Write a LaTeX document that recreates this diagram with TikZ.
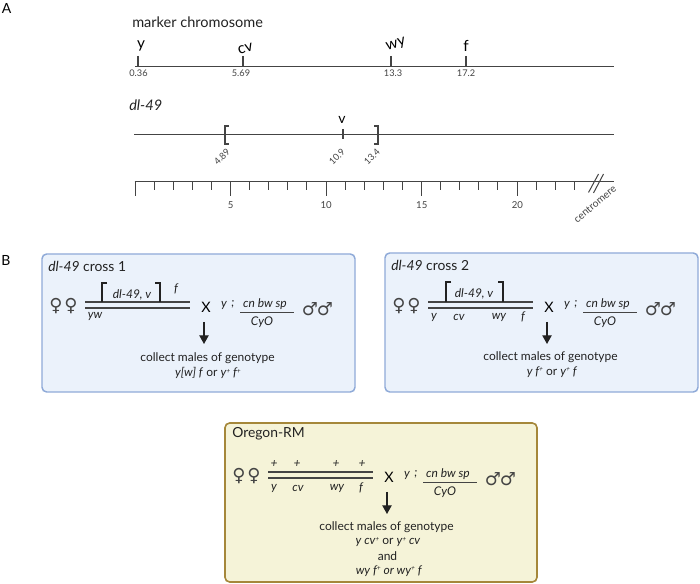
\documentclass[tikz,border=0pt]{standalone}
\usepackage{fontspec}
\setmainfont{Lato}
\newfontfamily\symfont{DejaVu Sans}
\usetikzlibrary{arrows.meta}
\definecolor{inkc}{HTML}{222222}
\definecolor{rulec}{HTML}{444444}
\definecolor{bluefill}{HTML}{EBF2FB}
\definecolor{blueedge}{HTML}{8FAAD8}
\definecolor{yellowfill}{HTML}{F5F3D8}
\definecolor{yellowedge}{HTML}{A5873A}
\newcommand{\fs}[1]{\fontsize{#1}{#1}\selectfont}
\newcommand{\plus}{\raisebox{0.55ex}{\fs{5}+}}
\tikzset{
  lbl/.style={inner sep=0pt,text=inkc,font=\fs{10.9}},
  panel/.style={inner sep=0pt,text=black,font=\fs{10.5}},
  gene/.style={inner sep=0pt,text=black,font=\fs{11.5}},
  num/.style={inner sep=0pt,text=rulec,font=\fs{6.9}},
  geno/.style={inner sep=0pt,text=inkc,font=\fs{9}\itshape},
  body/.style={inner sep=0pt,text=inkc,font=\fs{9}},
  sym/.style={inner sep=0pt,text=rulec,font=\fs{13.5}\symfont},
  axis/.style={draw=rulec,line width=0.85pt},
  thin axis/.style={draw=rulec,line width=0.75pt},
  mark tick/.style={draw=rulec,line width=0.85pt},
  brk/.style={draw=rulec,line width=0.8pt},
  dbl/.style={draw=rulec,line width=1.25pt},
  dbrk/.style={draw=inkc,line width=1.2pt},
  fracline/.style={draw=rulec,line width=0.6pt},
  blue box/.style={draw=blueedge,fill=bluefill,line width=1.1pt,rounded corners=3.5pt},
  yellow box/.style={draw=yellowedge,fill=yellowfill,line width=1.2pt,rounded corners=3.5pt},
  down arrow/.style={draw=inkc,line width=1pt,-{Triangle[width=7pt,length=6.5pt]}},
}
\newcommand{\crosscommon}[2]{%
  \node[sym] (f1) at (56,306) {♀};
  \node[sym] (f2) at (71,306) {♀};
  \coordinate (la) at (85,302); \coordinate (lb) at (190,302);
  \coordinate (lc) at (85,308); \coordinate (ld) at (190,308);
  \draw[dbl] (la) -- (lb);
  \draw[dbl] (lc) -- (ld);
  \node[inner sep=0pt,text=black,font=\fs{10.8}] (cross) at (206,307.5) {X};
  \node[geno] (ymale) at (224,305.5) {y};
  \node[geno] (semi) at (233,304.5) {;};
  \node[geno] (cn) at (265,304) {cn bw sp};
  \coordinate (fa) at (240,312); \coordinate (fb) at (294,312);
  \draw[fracline] (fa) -- (fb);
  \node[geno] (cyo) at (262,322) {CyO};
  \node[sym] (m1) at (310,309) {♂};
  \node[sym] (m2) at (325,309) {♂};
  \coordinate (ar) at (204,322); \coordinate (at) at (204,344);
  \draw[down arrow] (ar) -- (at);
  \node[body] (collect) at (#1,#2) {collect males of genotype};
}
\begin{document}
\begin{tikzpicture}[x=0.75pt,y=-0.75pt]
\useasboundingbox (0,0) rectangle (700,584);
\fill[white] (0,0) rectangle (700,584);
\node[panel] (A) at (6.5,8) {A};
\node[panel] (B) at (6,260) {B};
% marker chromosome
\node[lbl,anchor=west] (mc) at (132,22) {marker chromosome};
\coordinate (m0) at (135,66.5); \coordinate (m1e) at (614,66.5);
\draw[axis] (m0) -- (m1e);
\foreach \xx/\nm/\ang/\lx/\ly/\val/\vx in {138/y/0/141/46/0.36/138.5,243/cv/15/245.5/48.5/5.69/241,391/wy/15/396/45/13.3/393,466/f/0/466/46/17.2/466}{
  \draw[mark tick] (\xx,56) -- (\xx,66.5);
  \node[gene,rotate=\ang] (g\nm) at (\lx,\ly) {\nm};
  \node[num] (v\nm) at (\vx,73.5) {\val};
}
% dl-49
\node[lbl,anchor=west,font=\fs{10.9}\itshape] (dl) at (129,105) {dl-49};
\coordinate (d0) at (134,135); \coordinate (d1) at (614,135);
\draw[thin axis] (d0) -- (d1);
\draw[brk] (229,126) -- (225,126) -- (225,144) -- (229,144);
\draw[brk] (374,126) -- (378,126) -- (378,144) -- (374,144);
\draw[brk] (343,129) -- (343,139.5);
\node[gene,font=\fs{10.5}] (gv) at (342,120) {v};
\node[num,rotate=45] (n1) at (222,157) {4.89};
\node[num,rotate=45] (n2) at (337,157) {10.9};
\node[num,rotate=45] (n3) at (372,157) {13.4};
% scale
\coordinate (s0) at (134.5,181.5); \coordinate (s1) at (614,181.5);
\draw[thin axis] (s0) -- (s1);
\foreach \i in {1,...,23}{
  \pgfmathsetmacro{\xx}{135+19.1*\i}
  \draw[thin axis] (\xx,181.5) -- (\xx,190.5);
}
\foreach \i/\lab in {0/,5/5,10/10,15/15,20/20}{
  \pgfmathsetmacro{\xx}{135+19.12*\i}
  \draw[thin axis] (\xx,181.5) -- (\xx,196.5);
  \ifx\lab\empty\else\node[num,font=\fs{7.2}] (t\i) at (\xx,205.5) {\lab};\fi
}
\draw[thin axis] (588.5,192.5) -- (598.5,174);
\draw[thin axis] (593.5,193) -- (603.5,174);
\node[num,rotate=40,font=\fs{7.7}] (cen) at (595,204) {centromere};
% boxes
\draw[blue box] (42,254) rectangle (355,392);
\draw[blue box] (385,253) rectangle (698,392);
\draw[yellow box] (225,423) rectangle (537,582);
% cross 1
\begin{scope}[name prefix=a-]
  \crosscommon{207.5}{358}
  \node[lbl,anchor=west,font=\fs{10.4}] (title) at (48,266) {\textit{dl-49} cross 1};
  \draw[dbrk] (107,283) -- (102,283) -- (102,302);
  \draw[dbrk] (155,283) -- (160,283) -- (160,302);
  \node[geno] (dv) at (132,295) {dl-49, v};
  \node[geno] (ff) at (176,289) {f};
  \node[geno] (yw) at (95,316.5) {yw};
  \node[body] (r2) at (208,373) {\textit{y[w] f} or \textit{y\plus{} f\plus}};
\end{scope}
% cross 2
\begin{scope}[shift={(343,0)},name prefix=b-]
  \crosscommon{207.5}{357.5}
  \node[lbl,anchor=west,font=\fs{10.4}] (title) at (48,265) {\textit{dl-49} cross 2};
  \draw[dbrk] (108,282) -- (103,282) -- (103,302);
  \draw[dbrk] (155,282) -- (160,282) -- (160,302);
  \node[geno] (dv) at (131,294) {dl-49, v};
  \foreach \lx/\nm in {91/y,116/cv,156/wy,180/f}{\node[geno] (u\nm) at (\lx,317) {\nm};}
  \node[body] (r2) at (209,372) {\textit{y f\plus} or \textit{y\plus{} f}};
\end{scope}
% Oregon
\begin{scope}[shift={(183,170)},name prefix=c-]
  \crosscommon{203.5}{357}
  \node[lbl,anchor=west,font=\fs{10.4}] (title) at (49,264) {Oregon-RM};
  \foreach \lx/\nm in {91/y,115/cv,154/wy,178/f}{\node[geno] (u\nm) at (\lx,318) {\nm};}
  \foreach \lx/\nm in {91/a,114/b,153/c,179/d}{\node[geno] (p\nm) at (\lx,294) {+};}
  \node[body] (r2) at (205,372) {\textit{y cv\plus} or \textit{y\plus{} cv}};
  \node[body] (r3) at (204.5,386) {and};
  \node[body] (r4) at (206,401) {\textit{wy f\plus{} or wy\plus{} f}};
\end{scope}
\end{tikzpicture}
\end{document}
